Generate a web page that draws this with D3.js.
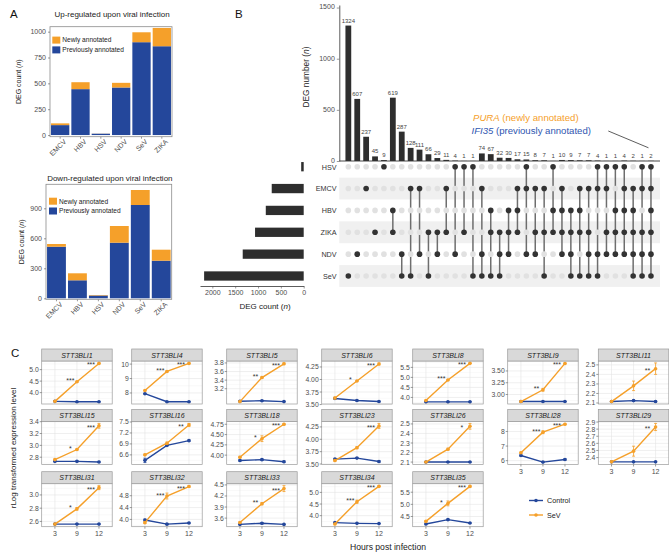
<!DOCTYPE html>
<html><head><meta charset="utf-8">
<script src="https://cdn.jsdelivr.net/npm/d3@7"></script>
<style>body{margin:0;background:#fff}svg{display:block;font-family:"Liberation Sans",Arial,Helvetica,sans-serif}</style>
</head><body><svg id="fig" width="669" height="554"></svg>
<script>
// ---------- Panel A data ----------
const viruses = ["EMCV","HBV","HSV","NDV","SeV","ZIKA"];
const upPrev = [96, 444, 13, 460, 898, 859];
const upNew = [17, 67, 1, 45, 96, 177];
const downPrev = [516, 180, 28, 556, 933, 376];
const downNew = [27, 70, 5, 167, 150, 110];
const upTicks = [0, 250, 500, 750, 1000];
const downTicks = [0, 300, 600, 900];

// ---------- Panel B data ----------
const setNames = ["HSV","EMCV","HBV","ZIKA","NDV","SeV"];
const setSizes = [55, 700, 830, 1065, 1335, 2180];
const setTicks = [0, 500, 1000, 1500, 2000];
const interCounts = [1324,607,237,45,9,619,287,128,111,66,29,11,4,1,1,74,67,32,30,17,15,8,7,1,10,9,7,7,4,1,1,4,2,1,2];
const interSets = [
 ["SeV"],["NDV"],["EMCV"],["ZIKA"],["HSV"],
 ["HBV","ZIKA"],["NDV","SeV"],["EMCV","SeV"],["EMCV","NDV"],["ZIKA","SeV"],["ZIKA","NDV"],["EMCV","ZIKA"],["HSV","NDV"],["HSV","ZIKA"],["HSV","SeV"],
 ["EMCV","NDV","SeV"],["HBV","ZIKA","SeV"],["ZIKA","NDV","SeV"],["HBV","ZIKA","NDV"],["EMCV","HBV","ZIKA"],["HSV","EMCV","NDV"],["EMCV","ZIKA","NDV"],["EMCV","ZIKA","SeV"],["HSV","HBV","ZIKA"],
 ["EMCV","HBV","ZIKA","NDV"],["HBV","ZIKA","NDV","SeV"],["EMCV","HBV","ZIKA","SeV"],["EMCV","ZIKA","NDV","SeV"],["HSV","EMCV","NDV","SeV"],["HSV","EMCV","ZIKA","NDV"],["HSV","HBV","ZIKA","NDV"],
 ["HSV","EMCV","HBV","ZIKA","NDV"],["EMCV","HBV","ZIKA","NDV","SeV"],["HSV","EMCV","ZIKA","NDV","SeV"],
 ["HSV","EMCV","HBV","ZIKA","NDV","SeV"]];
const interTicks = [0, 500, 1000, 1500];

// ---------- Panel C data ----------
const genes = ["STT3BLI1","STT3BLI4","STT3BLI5","STT3BLI6","STT3BLI8","STT3BLI9","STT3BLI11","STT3BLI15","STT3BLI16","STT3BLI18","STT3BLI23","STT3BLI26","STT3BLI28","STT3BLI29","STT3BLI31","STT3BLI32","STT3BLI33","STT3BLI34","STT3BLI35"];
const hours = ["3","9","12"];
const sevMean = [[3.62,4.47,5.27],[8.17,9.49,10.05],[2.90,3.46,3.78],[3.63,3.97,4.31],[3.85,4.87,5.70],[2.85,3.10,3.66],[2.115,2.28,2.46],[2.76,2.93,3.33],[6.60,6.92,7.42],[3.95,4.40,4.75],[3.57,3.83,4.27],[2.10,2.235,2.475],[6.54,7.95,8.50],[2.34,2.49,2.83],[2.56,2.79,3.11],[3.89,4.79,5.11],[3.48,3.99,4.40],[3.64,4.60,5.26],[4.30,5.04,5.74]];
const sevErr = [[0.01,0.02,0.02],[0.03,0.05,0.03],[0.01,0.02,0.02],[0.02,0.01,0.02],[0.02,0.03,0.02],[0.01,0.03,0.01],[0.005,0.05,0.06],[0.01,0.01,0.04],[0.02,0.03,0.04],[0.02,0.07,0.02],[0.02,0.02,0.05],[0.005,0.01,0.03],[0.05,0.1,0.05],[0.01,0.07,0.05],[0.01,0.02,0.03],[0.03,0.1,0.03],[0.02,0.03,0.08],[0.03,0.07,0.03],[0.03,0.1,0.03]];
const ctrlMean = [[3.62,3.60,3.60],[7.95,7.39,7.39],[2.91,2.92,2.90],[3.62,3.58,3.56],[3.78,3.78,3.78],[2.85,2.85,2.85],[2.115,2.125,2.115],[2.73,2.73,2.72],[6.45,6.86,6.99],[3.87,3.89,3.84],[3.60,3.62,3.55],[2.10,2.10,2.10],[6.35,5.90,6.08],[2.34,2.34,2.34],[2.56,2.56,2.56],[3.98,3.84,3.88],[3.43,3.46,3.43],[3.70,3.67,3.66],[4.19,4.37,4.23]];
const ctrlErr = [[0.01,0.01,0.01],[0.03,0.02,0.02],[0.01,0.01,0.01],[0.01,0.01,0.01],[0.01,0.01,0.01],[0.005,0.005,0.005],[0.005,0.005,0.005],[0.01,0.01,0.01],[0.06,0.02,0.02],[0.02,0.02,0.02],[0.01,0.01,0.02],[0.003,0.003,0.003],[0.05,0.03,0.06],[0.005,0.005,0.005],[0.005,0.005,0.005],[0.03,0.02,0.02],[0.01,0.02,0.01],[0.02,0.01,0.01],[0.03,0.03,0.02]];
const sigLabels = [["***","***"],["***","***"],["**","***"],["*","***"],["***","***"],["**","***"],["","**"],["*","***"],["","**"],["*","***"],["","***"],["","*"],["***","***"],["","**"],["*","***"],["***","***"],["**","***"],["***","***"],["*","***"]];
const yTicks = [["4.0","4.5","5.0"],["8","9","10"],["3.2","3.4","3.6","3.8"],["3.50","3.75","4.00","4.25"],["4.0","4.5","5.0","5.5"],["3.00","3.25","3.50"],["2.1","2.2","2.3","2.4","2.5"],["2.8","3.0","3.2","3.4"],["6.6","6.9","7.2","7.5"],["4.00","4.25","4.50","4.75"],["3.50","3.75","4.00","4.25"],["2.1","2.2","2.3","2.4","2.5"],["6","7","8"],["2.4","2.5","2.6","2.7","2.8","2.9"],["2.6","2.8","3.0"],["4.0","4.4","4.8"],["3.6","3.9","4.2","4.5"],["4.0","4.5","5.0"],["4.5","5.0","5.5"]];
const conditions = ["Control","SeV"];

// ---------- styles ----------
const ORANGE = "#f5a02a", BLUE = "#24479b", AXT = "#4d4d4d", DARK = "#333333";
const svg = d3.select("#fig");

function txt(g, x, y, s, fs, opt = {}) {
  return g.append("text").attr("x", x).attr("y", y).attr("font-size", fs)
    .attr("fill", opt.fill || "#222").attr("text-anchor", opt.anchor || "start").text(s);
}
function nTitle(g, x, y, pre, fs, rotate) {
  const t = g.append("text").attr("font-size", fs).attr("fill", "#222").attr("text-anchor", "middle")
    .attr("transform", `translate(${x},${y})` + (rotate ? " rotate(-90)" : ""));
  t.append("tspan").text(pre + " (");
  t.append("tspan").attr("font-style", "italic").text("n");
  t.append("tspan").text(")");
}
function styleAxis(sel, fs, keepDomain) {
  sel.attr("font-family", null).attr("font-size", null);
  sel.selectAll("text").attr("font-size", fs).attr("fill", AXT);
  sel.selectAll(".tick line").attr("stroke", "#555").attr("stroke-width", 0.6);
  if (keepDomain) sel.select(".domain").attr("stroke", "#333").attr("stroke-width", 0.8);
  else sel.select(".domain").remove();
}

// ---------- Panel labels ----------
txt(svg, 10, 17.5, "A", 11.5, {fill: "#111"});
txt(svg, 235, 17.5, "B", 11.5, {fill: "#111"});
txt(svg, 11, 356.5, "C", 11.5, {fill: "#111"});

// ---------- Panel A ----------
function stacked(cfg) {
  const g = svg.append("g");
  const x = d3.scaleBand().domain(viruses).range([cfg.l, cfg.r]).paddingInner(0.1).paddingOuter(0.05);
  const y = d3.scaleLinear().domain(cfg.lim).range([cfg.b, cfg.t]);
  txt(g, (cfg.l + cfg.r) / 2 + 1, cfg.titleY, cfg.title, 8, {anchor: "middle"});
  viruses.forEach((v, i) => {
    const p = cfg.prev[i], n = cfg.newly[i];
    g.append("rect").attr("x", x(v)).attr("width", x.bandwidth()).attr("y", y(p)).attr("height", y(0) - y(p)).attr("fill", BLUE);
    g.append("rect").attr("x", x(v)).attr("width", x.bandwidth()).attr("y", y(p + n)).attr("height", y(p) - y(p + n)).attr("fill", ORANGE);
    g.append("text").attr("font-size", 7).attr("fill", AXT).attr("text-anchor", "end").attr("dy", "0.71em")
      .attr("transform", `translate(${x(v) + x.bandwidth() / 2 + 3},${cfg.b + 2}) rotate(-45)`).text(v);
    g.append("line").attr("x1", x(v) + x.bandwidth() / 2).attr("x2", x(v) + x.bandwidth() / 2)
      .attr("y1", cfg.b).attr("y2", cfg.b + 2).attr("stroke", "#555").attr("stroke-width", 0.6);
  });
  g.append("rect").attr("x", cfg.l).attr("y", cfg.t).attr("width", cfg.r - cfg.l).attr("height", cfg.b - cfg.t)
    .attr("fill", "none").attr("stroke", "#8c8c8c").attr("stroke-width", 0.8);
  const ax = g.append("g").attr("transform", `translate(${cfg.l},0)`)
    .call(d3.axisLeft(y).tickValues(cfg.ticks).tickSize(2).tickPadding(2).tickFormat(d3.format("d")));
  styleAxis(ax, 7, false);
  // legend
  const lg = cfg.leg;
  g.append("rect").attr("x", lg.x).attr("y", lg.y).attr("width", 8).attr("height", 7).attr("fill", ORANGE);
  g.append("rect").attr("x", lg.x).attr("y", lg.y + 9.8).attr("width", 8).attr("height", 7).attr("fill", BLUE);
  txt(g, lg.x + 10, lg.y + 5.8, "Newly annotated", 6.6);
  txt(g, lg.x + 10, lg.y + 15.6, "Previously annotated", 6.6);
  nTitle(g, cfg.ytx, (cfg.t + cfg.b) / 2, "DEG count", 7, true);
}
stacked({l: 50, r: 172, t: 26.7, b: 136.7, lim: [-16, 1048], ticks: upTicks, prev: upPrev, newly: upNew,
  title: "Up-regulated upon viral infection", titleY: 17.3, leg: {x: 52.3, y: 36.6}, ytx: 20.5});
stacked({l: 46, r: 171.7, t: 184.3, b: 299.3, lim: [-10, 1140], ticks: downTicks, prev: downPrev, newly: downNew,
  title: "Down-regulated upon viral infection", titleY: 181.2, leg: {x: 49, y: 197.7}, ytx: 24});

// ---------- Panel B ----------
const gB = svg.append("g");
const xB = d3.scaleBand().domain(d3.range(interCounts.length)).range([339.3, 660]).paddingInner(0.35).paddingOuter(0.69);
const yB = d3.scaleLinear().domain([0, 1525]).range([161, 5]);
const yM = d3.scalePoint().domain(setNames).range([166.7, 276]);
const rowStep = yM.step();
// shaded rows
setNames.forEach((s, i) => {
  if (i % 2 === 1) gB.append("rect").attr("x", 339.3).attr("width", 320.7).attr("y", yM(s) - rowStep / 2).attr("height", rowStep).attr("fill", "#f0f0f0");
});
// bars
interCounts.forEach((v, i) => {
  gB.append("rect").attr("x", xB(i)).attr("width", xB.bandwidth()).attr("y", yB(v)).attr("height", yB(0) - yB(v)).attr("fill", "#2e2e2e");
  gB.append("text").attr("x", xB(i) + xB.bandwidth() / 2).attr("y", yB(v) - 3).attr("text-anchor", "middle")
    .attr("font-size", 6).attr("fill", "#444").text(v);
});
const axB = gB.append("g").attr("transform", "translate(339.3,0)")
  .call(d3.axisLeft(yB).tickValues(interTicks).tickSize(2.5).tickPadding(2).tickSizeOuter(0).tickFormat(d3.format("d")));
styleAxis(axB, 7, true);
axB.selectAll(".tick text").attr("dy", "0.2em");
gB.append("line").attr("x1", 339.3).attr("x2", 660).attr("y1", yB(0)).attr("y2", yB(0)).attr("stroke", "#333").attr("stroke-width", 0.9);
nTitle(gB, 309, 77, "DEG number", 8.3, true);
// annotation
const ann1 = gB.append("text").attr("x", 473).attr("y", 120.6).attr("font-size", 9.6).attr("fill", ORANGE);
ann1.append("tspan").attr("font-style", "italic").text("PURA");
ann1.append("tspan").text(" (newly annotated)");
const ann2 = gB.append("text").attr("x", 471.5).attr("y", 133.8).attr("font-size", 9.6).attr("fill", "#2f56b0");
ann2.append("tspan").attr("font-style", "italic").text("IFI35");
ann2.append("tspan").text(" (previously annotated)");
const lastI = interCounts.length - 1;
gB.append("line").attr("x1", 608.3).attr("y1", 131).attr("x2", xB(lastI) + xB.bandwidth() / 2 - 2.5).attr("y2", yB(interCounts[lastI]) - 13)
  .attr("stroke", "#333").attr("stroke-width", 0.8);
// matrix
interSets.forEach((sets, i) => {
  const cx = xB(i) + xB.bandwidth() / 2;
  const ys = sets.map(s => yM(s));
  if (sets.length > 1) gB.append("line").attr("x1", cx).attr("x2", cx).attr("y1", d3.min(ys)).attr("y2", d3.max(ys))
    .attr("stroke", "#6e6e6e").attr("stroke-width", 1.5);
  setNames.forEach(s => {
    gB.append("circle").attr("cx", cx).attr("cy", yM(s)).attr("r", 2.8)
      .attr("fill", sets.includes(s) ? "#333" : "#e1e1e1");
  });
});
setNames.forEach(s => txt(gB, 336.6, yM(s) + 2.8, s, 7.2, {anchor: "end", fill: "#333"}));
// set size bars
const xS = d3.scaleLinear().domain([0, 2270]).range([303.7, 200]);
setNames.forEach((s, i) => {
  gB.append("rect").attr("x", xS(setSizes[i])).attr("width", xS(0) - xS(setSizes[i])).attr("y", yM(s) - 4.65).attr("height", 9.3).attr("fill", "#2e2e2e");
});
const axS = gB.append("g").attr("transform", "translate(0,286)")
  .call(d3.axisBottom(xS).tickValues(setTicks).tickSize(2.5).tickPadding(2).tickSizeOuter(0).tickFormat(d3.format("d")));
styleAxis(axS, 7, true);
nTitle(gB, 265, 308.8, "DEG count", 8, false);

// ---------- Panel C ----------
const gC = svg.append("g");
const colL = [41.7, 131.7, 226.7, 321.7, 412.7, 507.7, 598.3];
const rowT = [349, 409.5, 471.7];
const PW = 70.5, SH = 12, PH = 43;
const colors = {Control: BLUE, SeV: ORANGE};
genes.forEach((gname, i) => {
  const r = Math.floor(i / 7), c = i % 7;
  const L = colL[c], T = rowT[r], pt = T + SH, pb = pt + PH;
  const x = d3.scalePoint().domain(hours).range([L, L + PW]).padding(0.6);
  const lows = [], highs = [];
  hours.forEach((h, k) => {
    lows.push(sevMean[i][k] - sevErr[i][k], ctrlMean[i][k] - ctrlErr[i][k]);
    highs.push(sevMean[i][k] + sevErr[i][k], ctrlMean[i][k] + ctrlErr[i][k]);
  });
  const lo = d3.min(lows), hi = d3.max(highs), ex = (hi - lo) * 0.05;
  const y = d3.scaleLinear().domain([lo - ex, hi + ex]).range([pb, pt]);
  const g = gC.append("g");
  g.append("rect").attr("x", L).attr("y", pt).attr("width", PW).attr("height", PH).attr("fill", "#fff");
  // grid
  const tv = yTicks[i].map(Number);
  const step = tv[1] - tv[0];
  const [d0, d1] = y.domain();
  for (let m = tv[0] - step / 2; m <= d1; m += step) {
    if (m >= d0) g.append("line").attr("x1", L).attr("x2", L + PW).attr("y1", y(m)).attr("y2", y(m)).attr("stroke", "#f2f2f2").attr("stroke-width", 0.5);
  }
  const tol = (d1 - d0) * 0.02;
  const shown = yTicks[i].filter(t => +t >= d0 - tol && +t <= d1 + tol);
  shown.forEach(t => g.append("line").attr("x1", L).attr("x2", L + PW).attr("y1", y(+t)).attr("y2", y(+t)).attr("stroke", "#e4e4e4").attr("stroke-width", 0.6));
  hours.forEach(h => g.append("line").attr("x1", x(h)).attr("x2", x(h)).attr("y1", pt).attr("y2", pb).attr("stroke", "#e4e4e4").attr("stroke-width", 0.6));
  // series
  const series = [{name: "Control", m: ctrlMean[i], e: ctrlErr[i]}, {name: "SeV", m: sevMean[i], e: sevErr[i]}];
  series.forEach(s => {
    const col = colors[s.name];
    g.append("path").attr("d", d3.line().x((d, k) => x(hours[k])).y(d => y(d))(s.m))
      .attr("fill", "none").attr("stroke", col).attr("stroke-width", 1.4);
    s.m.forEach((v, k) => {
      const cx = x(hours[k]);
      g.append("line").attr("x1", cx).attr("x2", cx).attr("y1", y(v - s.e[k])).attr("y2", y(v + s.e[k])).attr("stroke", col).attr("stroke-width", 0.8);
      [v - s.e[k], v + s.e[k]].forEach(w => g.append("line").attr("x1", cx - 1.5).attr("x2", cx + 1.5).attr("y1", y(w)).attr("y2", y(w)).attr("stroke", col).attr("stroke-width", 0.8));
      g.append("circle").attr("cx", cx).attr("cy", y(v)).attr("r", 1.8).attr("fill", col);
    });
  });
  // significance
  sigLabels[i].forEach((lab, k) => {
    if (!lab) return;
    const hk = hours[k + 1];
    const v = sevMean[i][k + 1];
    const cy = k === 0 ? y(v) - 2.5 : y(v);
    g.append("text").attr("x", x(hk) - (k === 0 ? 6.5 : 8)).attr("y", cy + 4).attr("text-anchor", "middle")
      .attr("font-size", 7).attr("fill", "#333").text(lab);
  });
  // border
  g.append("rect").attr("x", L).attr("y", pt).attr("width", PW).attr("height", PH).attr("fill", "none").attr("stroke", "#9a9a9a").attr("stroke-width", 0.7);
  // strip
  g.append("rect").attr("x", L).attr("y", T).attr("width", PW).attr("height", SH).attr("fill", "#d9d9d9").attr("stroke", "#9a9a9a").attr("stroke-width", 0.7);
  g.append("text").attr("x", L + PW / 2).attr("y", T + SH / 2 + 2.5).attr("text-anchor", "middle").attr("font-size", 7)
    .attr("font-style", "italic").attr("fill", "#1a1a1a").text(gname);
  // y axis
  shown.forEach(t => {
    g.append("line").attr("x1", L - 2).attr("x2", L).attr("y1", y(+t)).attr("y2", y(+t)).attr("stroke", "#555").attr("stroke-width", 0.6);
    g.append("text").attr("x", L - 3).attr("y", y(+t) + 2.5).attr("text-anchor", "end").attr("font-size", 6.8).attr("fill", AXT).text(t);
  });
  // x axis only on bottom panels
  if (i + 7 >= genes.length) {
    hours.forEach(h => {
      g.append("line").attr("x1", x(h)).attr("x2", x(h)).attr("y1", pb).attr("y2", pb + 2).attr("stroke", "#555").attr("stroke-width", 0.6);
      g.append("text").attr("x", x(h)).attr("y", pb + 9.5).attr("text-anchor", "middle").attr("font-size", 7).attr("fill", AXT).text(h);
    });
  }
});
// C axis titles
gC.append("text").attr("transform", "translate(15.5,448) rotate(-90)").attr("text-anchor", "middle").attr("font-size", 8).attr("fill", "#222")
  .text("rLog transformed expression level");
txt(gC, 388, 549.5, "Hours post infection", 8.6, {anchor: "middle"});
// C legend
conditions.forEach((cnd, k) => {
  const ly = 500.5 + k * 14.5;
  gC.append("line").attr("x1", 529).attr("x2", 543).attr("y1", ly).attr("y2", ly).attr("stroke", colors[cnd]).attr("stroke-width", 1.4);
  gC.append("circle").attr("cx", 536).attr("cy", ly).attr("r", 1.8).attr("fill", colors[cnd]);
  txt(gC, 547, ly + 2.5, cnd, 7.2);
});
</script>
</body></html>
